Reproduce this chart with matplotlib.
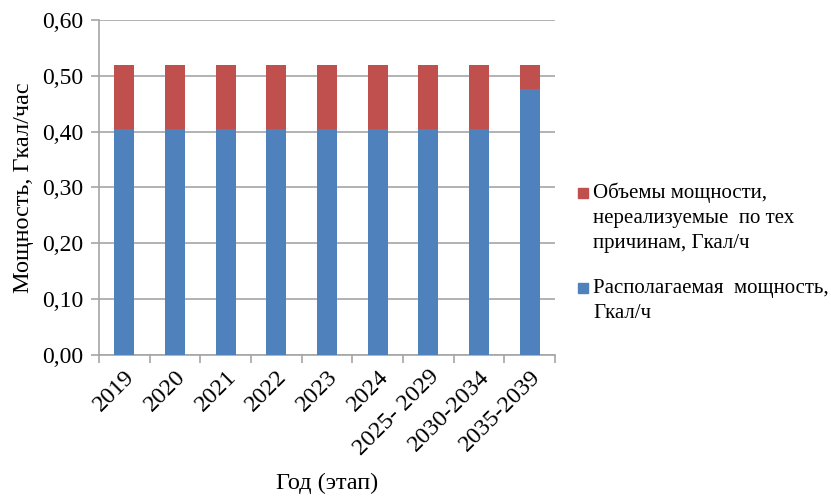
import numpy as np
import matplotlib.pyplot as plt
from matplotlib.patches import Rectangle

plt.rcParams['font.family'] = ['Liberation Serif', 'DejaVu Serif']

periods = ['2019', '2020', '2021', '2022', '2023', '2024', '2025- 2029', '2030-2034', '2035-2039']
available = [0.405, 0.405, 0.405, 0.405, 0.405, 0.405, 0.405, 0.405, 0.477]
unrealized = [0.115, 0.115, 0.115, 0.115, 0.115, 0.115, 0.115, 0.115, 0.043]

label_unreal = ['Объемы мощности,', 'нереализуемые  по тех', 'причинам, Гкал/ч']
label_avail = ['Располагаемая  мощность,', 'Гкал/ч']

blue = '#4F81BD'
red = '#C0504D'
grid_col = '#A6A6A6'

W, H = 831, 496
fig = plt.figure(figsize=(W / 100, H / 100), dpi=100)
ax = fig.add_axes([0.119, 0.284, 0.549, 0.676])

x = np.arange(len(periods))
ax.bar(x, available, width=0.39, color=blue, zorder=3)
ax.bar(x, unrealized, width=0.39, bottom=available, color=red, zorder=3)

ax.set_xlim(-0.5, len(periods) - 0.5)
ax.set_ylim(0, 0.6)
yt = np.arange(0, 0.61, 0.1)
ax.set_yticks(yt)
ax.set_yticklabels([f'{v:.2f}'.replace('.', ',') for v in yt], fontsize=17)
ax.yaxis.grid(True, color=grid_col, linewidth=1.2, zorder=0)

# ticks on category boundaries, labels at the centres
ax.set_xticks(np.arange(-0.5, len(periods)))
ax.set_xticklabels([])
ax.set_xticks(x, minor=True)
ax.set_xticklabels(periods, minor=True, rotation=45, ha='right', rotation_mode='anchor', fontsize=17.5)
ax.tick_params(axis='x', which='minor', length=0, pad=8)
ax.tick_params(axis='x', which='major', length=6, color=grid_col, width=1.2)
ax.tick_params(axis='y', length=6, color=grid_col, width=1.2, pad=5)

for s in ['top', 'right']:
    ax.spines[s].set_visible(False)
for s in ['left', 'bottom']:
    ax.spines[s].set_color(grid_col)
    ax.spines[s].set_linewidth(1.2)

ax.set_ylabel('Мощность, Гкал/час', fontsize=17.5, labelpad=6)
ax.set_xlabel('Год (этап)', fontsize=17.5, labelpad=9)

# legend drawn by hand so the markers line up with the first text line
def legend_entry(y0, color, lines):
    fig.patches.append(Rectangle((578 / W, 1 - (y0 + 5) / H), 10 / W, 10 / H,
                                 transform=fig.transFigure, color=color, figure=fig))
    for i, line in enumerate(lines):
        fig.text(593 / W, 1 - (y0 + 25 * i) / H, line, fontsize=15,
                 ha='left', va='center')

legend_entry(193, red, label_unreal)
legend_entry(288, blue, label_avail)

fig.savefig('out.png', dpi=100)
